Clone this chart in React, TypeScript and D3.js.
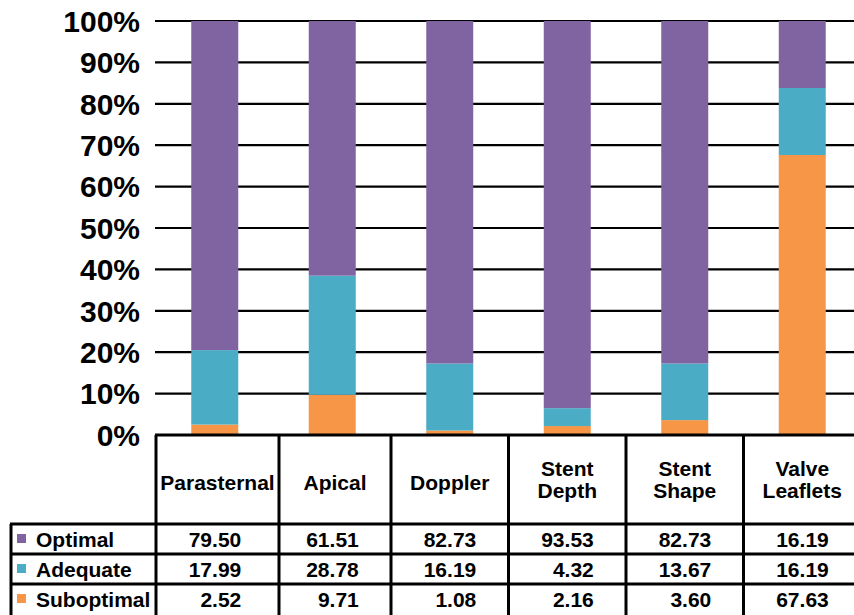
import * as React from "react";
import * as d3 from "d3";

// values (percent of cases)
const categories = ["Parasternal", "Apical", "Doppler", "Stent Depth", "Stent Shape", "Valve Leaflets"];
const seriesNames = ["Optimal", "Adequate", "Suboptimal"];
const optimal = [79.5, 61.51, 82.73, 93.53, 82.73, 16.19];
const adequate = [17.99, 28.78, 16.19, 4.32, 13.67, 16.19];
const suboptimal = [2.52, 9.71, 1.08, 2.16, 3.6, 67.63];
const yTicks = [0, 10, 20, 30, 40, 50, 60, 70, 80, 90, 100];

const colors: Record<string, string> = {
  Optimal: "#8064A2",
  Adequate: "#4BACC6",
  Suboptimal: "#F79646",
};

const W = 854;
const H = 615;
const FONT = "'Liberation Sans', Arial, Helvetica, sans-serif";

export default function App() {
  const rows = categories.map((c, i) => ({
    cat: c,
    Optimal: optimal[i],
    Adequate: adequate[i],
    Suboptimal: suboptimal[i],
  }));
  const valuesBySeries: Record<string, number[]> = {
    Optimal: optimal,
    Adequate: adequate,
    Suboptimal: suboptimal,
  };

  const x = d3.scaleBand<string>().domain(categories).range([156, 861]).padding(0);
  const y = d3.scaleLinear().domain([0, 100]).range([435, 21]);
  const barW = x.bandwidth() * 0.4;

  // stack from the bottom: suboptimal, adequate, optimal
  const stack = d3.stack<any>().keys(["Suboptimal", "Adequate", "Optimal"]);
  const layers = stack(rows);

  // table geometry
  const headTop = 435;
  const rowTops = [524, 554, 584];
  const edges = categories.map((c) => x(c)!);
  edges[1] += 5.5; // parasternal column drawn a bit wider
  edges.push(x(categories[5])! + x.bandwidth());

  return (
    <svg
      width={W}
      height={H}
      style={{ position: "absolute", left: 0, top: 0, background: "#fff" }}
      fontFamily={FONT}
      fontWeight="bold"
    >
      {/* gridlines */}
      {yTicks.map((t) => (
        <line key={"g" + t} x1={155} x2={W} y1={y(t)} y2={y(t)} stroke="#000" strokeWidth={2.2} />
      ))}
      {/* y labels */}
      {yTicks.map((t) => (
        <text key={"l" + t} x={140} y={y(t)} dy="0.36em" textAnchor="end" fontSize={30} fill="#000">
          {t + "%"}
        </text>
      ))}
      {/* bars */}
      {layers.map((layer) =>
        layer.map((d, i) => (
          <rect
            key={layer.key + i}
            x={x(categories[i])! + (x.bandwidth() - barW) / 2}
            y={y(d[1])}
            width={barW}
            height={y(d[0]) - y(d[1])}
            fill={colors[layer.key]}
          />
        ))
      )}

      {/* table lines */}
      <g stroke="#000" strokeWidth={3}>
        <line x1={155} x2={W} y1={headTop} y2={headTop} />
        {rowTops.map((r) => (
          <line key={"r" + r} x1={10} x2={W} y1={r} y2={r} />
        ))}
        <line x1={11} x2={11} y1={rowTops[0]} y2={H} />
        {edges.slice(0, 6).map((e, i) => (
          <line key={"v" + i} x1={e} x2={e} y1={headTop} y2={H} />
        ))}
      </g>

      {/* header labels */}
      {categories.map((c, i) => {
        const parts = c.split(" ");
        const cx = (edges[i] + edges[i + 1]) / 2;
        const base = parts.length === 1 ? 490 : 476;
        return (
          <text key={"h" + c} x={cx} y={base} textAnchor="middle" fontSize={21} fill="#000">
            {parts.map((p, j) => (
              <tspan key={j} x={cx} y={base + j * 21.5}>
                {p}
              </tspan>
            ))}
          </text>
        );
      })}

      {/* legend column + values */}
      {seriesNames.map((s, r) => (
        <g key={"row" + s}>
          <rect x={17} y={rowTops[r] + 10} width={9} height={9} fill={colors[s]} />
          <text x={36} y={rowTops[r] + 23} fontSize={21} fill="#000">
            {s}
          </text>
          {valuesBySeries[s].map((v, i) => (
            <text
              key={s + i}
              x={x(categories[i])! + x.bandwidth() / 2 + 26.5}
              y={rowTops[r] + 23}
              textAnchor="end"
              fontSize={21}
              fill="#000"
            >
              {d3.format(".2f")(v)}
            </text>
          ))}
        </g>
      ))}
    </svg>
  );
}
